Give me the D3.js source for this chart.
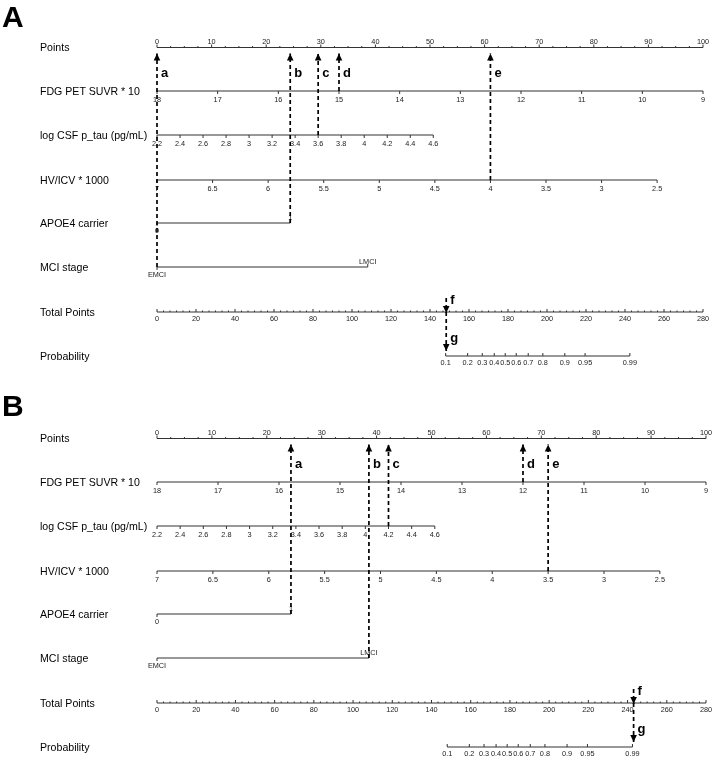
<!DOCTYPE html>
<html>
<head>
<meta charset="utf-8">
<script src="https://cdn.jsdelivr.net/npm/d3@7"></script>
<style>
  body { margin: 0; background: #fff; }
  svg { display: block; will-change: transform; }
  text { font-family: "Liberation Sans", Arial, sans-serif; }
</style>
</head>
<body>
<svg id="chart" width="714" height="761"></svg>
<script>
// nomogram data
const rowLabels = ['Points', 'FDG PET SUVR * 10', 'log CSF p_tau (pg/mL)', 'HV/ICV * 1000',
    'APOE4 carrier', 'MCI stage', 'Total Points', 'Probability'];

const pointTicks = d3.range(0, 101, 10);
const totalTicks = d3.range(0, 281, 20);

const fdgTicks = [18, 17, 16, 15, 14, 13, 12, 11, 10, 9];
const fdgMaxPoints = 100;
const csfTicks = [2.2, 2.4, 2.6, 2.8, 3, 3.2, 3.4, 3.6, 3.8, 4, 4.2, 4.4, 4.6];
const csfMaxPoints = 50.6;
const hvTicks = [7, 6.5, 6, 5.5, 5, 4.5, 4, 3.5, 3, 2.5];
const hvMaxPoints = 91.6;
const apoeLevels = ['0', '1'];
const apoePoints = [0, 24.4];
const mciLevels = ['EMCI', 'LMCI'];
const mciPoints = [0, 38.6];

const probTicks = [0.1, 0.2, 0.3, 0.4, 0.5, 0.6, 0.7, 0.8, 0.9, 0.95, 0.99];
const lpIntercept = -12.84;   // linear predictor = intercept + slope * total points
const lpSlope = 0.0719;

// the two worked examples
const panelNames = ['A', 'B'];
const patientFdg = [15, 12];
const patientCsf = [3.6, 4.2];
const patientHv = [4, 3.5];
const patientApoe = ['1', '1'];
const patientMci = ['EMCI', 'LMCI'];

// layout
const panelTop = [0, 391];
const panelRight = [703, 706];
const xLeft = 157;
const rowY = [47.5, 91, 135, 180, 223, 267, 312, 356];

const svg = d3.select('#chart');

svg.append('defs').append('marker')
    .attr('id', 'head')
    .attr('viewBox', '-7 -4 8 8')
    .attr('refX', 0)
    .attr('refY', 0)
    .attr('markerWidth', 8)
    .attr('markerHeight', 8)
    .attr('markerUnits', 'userSpaceOnUse')
    .attr('orient', 'auto')
    .append('path')
    .attr('d', 'M0,0L-7,-3.3L-7,3.3Z')
    .attr('fill', '#000');

function fmt(v) {
    return String(+v.toFixed(2));
}

function drawLine(g, x1, x2, y) {
    g.append('line')
        .attr('x1', x1).attr('x2', x2)
        .attr('y1', y).attr('y2', y)
        .attr('stroke', '#333')
        .attr('stroke-width', 1.1);
}

function drawTick(g, x, y, len) {
    g.append('line')
        .attr('x1', x).attr('x2', x)
        .attr('y1', y).attr('y2', y + len)
        .attr('stroke', '#333')
        .attr('stroke-width', 1);
}

function tickLabel(g, x, y, txt) {
    g.append('text')
        .attr('x', x).attr('y', y)
        .attr('text-anchor', 'middle')
        .attr('font-size', 7.3)
        .attr('fill', '#222')
        .text(txt);
}

// continuous variable axis: ticks down, labels below
function drawContinuous(g, scale, ticks, y) {
    const ext = d3.extent(ticks.map(scale));
    drawLine(g, ext[0], ext[1], y);
    ticks.forEach(t => {
        drawTick(g, scale(t), y, 3);
        tickLabel(g, scale(t), y + 11, fmt(t));
    });
}

// two-level factor: first level below, second above
function drawFactor(g, ptsX, levels, pts, y) {
    const x0 = ptsX(pts[0]);
    const x1 = ptsX(pts[1]);
    drawLine(g, x0, x1, y);
    drawTick(g, x0, y, 3);
    drawTick(g, x1, y, -3);
    tickLabel(g, x0, y + 10, levels[0]);
    tickLabel(g, x1, y - 3, levels[1]);
}

function dashed(g, x, y1, y2) {
    return g.append('line')
        .attr('x1', x).attr('x2', x)
        .attr('y1', y1).attr('y2', y2)
        .attr('stroke', '#000')
        .attr('stroke-width', 1.7)
        .attr('stroke-dasharray', '4,3')
        .attr('marker-end', 'url(#head)');
}

function arrowLetter(g, x, y, txt) {
    g.append('text')
        .attr('x', x).attr('y', y)
        .attr('font-size', 13)
        .attr('font-weight', 'bold')
        .text(txt);
}

panelNames.forEach((name, i) => {
    const g = svg.append('g').attr('transform', 'translate(0,' + panelTop[i] + ')');

    g.append('text')
        .attr('x', 2).attr('y', 27 + (i === 1 ? -2 : 0))
        .attr('font-size', 30)
        .attr('font-weight', 'bold')
        .text(name);

    rowLabels.forEach((lab, r) => {
        g.append('text')
            .attr('x', 40).attr('y', rowY[r])
            .attr('dy', '0.35em')
            .attr('font-size', 10.6)
            .text(lab);
    });

    const ptsX = d3.scaleLinear().domain([0, 100]).range([xLeft, panelRight[i]]);
    const totX = d3.scaleLinear().domain([0, 280]).range([xLeft, panelRight[i]]);

    // Points axis: ticks up, labels above
    drawLine(g, ptsX(0), ptsX(100), rowY[0]);
    d3.range(0, 100.1, 2.5).forEach(t => {
        drawTick(g, ptsX(t), rowY[0], t % 10 === 0 ? -3 : -1.5);
    });
    pointTicks.forEach(t => tickLabel(g, ptsX(t), rowY[0] - 4, String(t)));

    // variable axes
    const fdgX = d3.scaleLinear().domain([18, 9]).range([ptsX(0), ptsX(fdgMaxPoints)]);
    const csfX = d3.scaleLinear().domain([2.2, 4.6]).range([ptsX(0), ptsX(csfMaxPoints)]);
    const hvX = d3.scaleLinear().domain([7, 2.5]).range([ptsX(0), ptsX(hvMaxPoints)]);
    drawContinuous(g, fdgX, fdgTicks, rowY[1]);
    drawContinuous(g, csfX, csfTicks, rowY[2]);
    drawContinuous(g, hvX, hvTicks, rowY[3]);
    drawFactor(g, ptsX, apoeLevels, apoePoints, rowY[4]);
    drawFactor(g, ptsX, mciLevels, mciPoints, rowY[5]);

    // Total Points axis: ticks up, labels below
    drawLine(g, totX(0), totX(280), rowY[6]);
    d3.range(0, 280.1, 20 / 6).forEach(t => {
        const major = Math.abs(t / 20 - Math.round(t / 20)) < 1e-6;
        drawTick(g, totX(t), rowY[6], major ? -3 : -1.5);
    });
    totalTicks.forEach(t => tickLabel(g, totX(t), rowY[6] + 9, String(t)));

    // Probability axis
    const probToTotal = p => (Math.log(p / (1 - p)) - lpIntercept) / lpSlope;
    const px = probTicks.map(p => totX(probToTotal(p)));
    drawLine(g, d3.min(px), d3.max(px), rowY[7]);
    probTicks.forEach((p, k) => {
        drawTick(g, px[k], rowY[7], -3);
        tickLabel(g, px[k], rowY[7] + 9, fmt(p));
    });

    // contributions of the example patient
    const contrib = [
        {pts: fdgMaxPoints * (18 - patientFdg[i]) / 9, row: 1},
        {pts: csfMaxPoints * (patientCsf[i] - 2.2) / 2.4, row: 2},
        {pts: hvMaxPoints * (7 - patientHv[i]) / 4.5, row: 3},
        {pts: apoePoints[apoeLevels.indexOf(patientApoe[i])], row: 4},
        {pts: mciPoints[mciLevels.indexOf(patientMci[i])], row: 5}
    ];
    const order = contrib.slice().sort((a, b) => a.pts - b.pts);
    order.forEach((c, k) => {
        const x = ptsX(c.pts);
        dashed(g, x, rowY[c.row], rowY[0] + 6);
        arrowLetter(g, x + 4, rowY[0] + 29, 'abcde'[k]);
    });

    const total = d3.sum(contrib, c => c.pts);
    const tx = totX(total);
    dashed(g, tx, rowY[6] - 14, rowY[6] + 1);
    arrowLetter(g, tx + 4, rowY[6] - 8, 'f');
    dashed(g, tx, rowY[6], rowY[7] - 5);
    arrowLetter(g, tx + 4, rowY[6] + 30, 'g');
});
</script>
</body>
</html>
